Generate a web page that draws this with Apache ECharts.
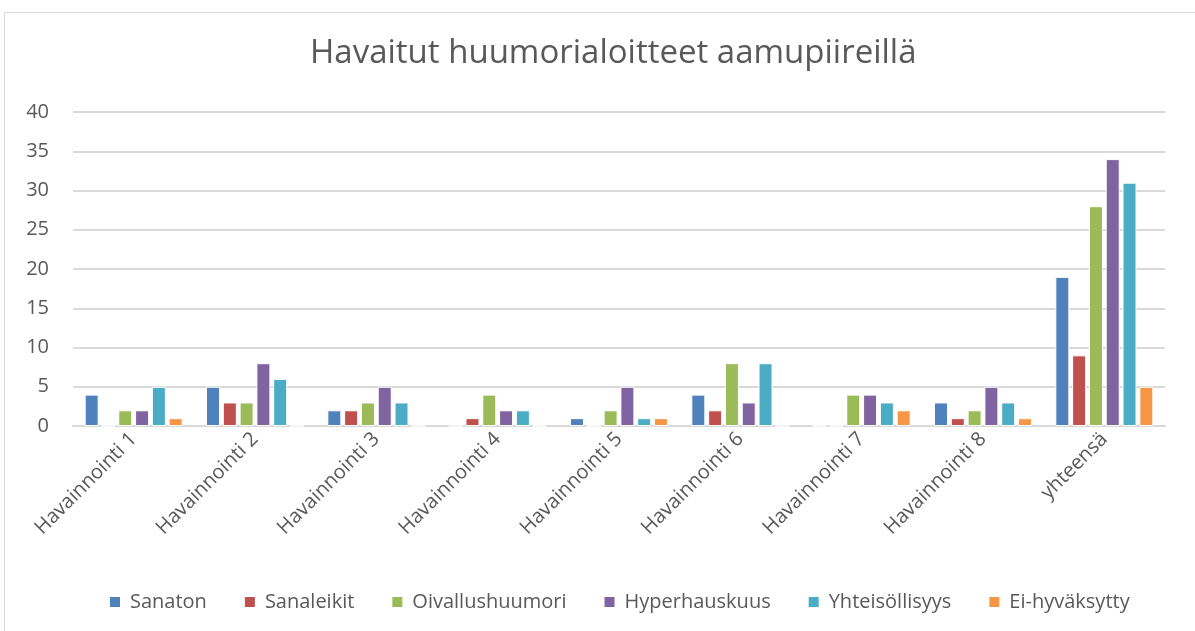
<!DOCTYPE html>
<html><head><meta charset="utf-8">
<script src="https://cdn.jsdelivr.net/npm/echarts@6/dist/echarts.min.js"></script>
<style>
html,body{margin:0;padding:0;background:#fff;}
#frame{position:absolute;left:4px;top:12px;width:1200px;height:640px;border:1px solid #d9d9d9;box-sizing:border-box;}
#c{position:absolute;left:0;top:0;width:1195px;height:631px;}
</style></head>
<body><div id="frame"></div><div id="c"></div>
<script>
var categories = ['Havainnointi 1','Havainnointi 2','Havainnointi 3','Havainnointi 4','Havainnointi 5','Havainnointi 6','Havainnointi 7','Havainnointi 8','yhteensä'];
var seriesNames = ['Sanaton','Sanaleikit','Oivallushuumori','Hyperhauskuus','Yhteisöllisyys','Ei-hyväksytty'];
var sanaton = [4,5,2,0,1,4,0,3,19];
var sanaleikit = [0,3,2,1,0,2,0,1,9];
var oivallushuumori = [2,3,3,4,2,8,4,2,28];
var hyperhauskuus = [2,8,5,2,5,3,4,5,34];
var yhteisollisyys = [5,6,3,2,1,8,3,3,31];
var eiHyvaksytty = [1,0,0,0,1,0,2,1,5];
var colors = ['#4f81bd','#c0504d','#9bbb59','#8064a2','#4bacc6','#f79646'];
var allData = [sanaton,sanaleikit,oivallushuumori,hyperhauskuus,yhteisollisyys,eiHyvaksytty];
var font = '"Open Sans", "Noto Sans", sans-serif';
var chart = echarts.init(document.getElementById('c'));
chart.setOption({
  animation:false,
  color: colors,
  title:{text:'Havaitut huumorialoitteet aamupiireillä',left:305,top:32,
    textStyle:{fontFamily:font,fontSize:33,fontWeight:'normal',color:'#595959'}},
  legend:{bottom:14,left:103,itemWidth:12,itemHeight:12,itemGap:36,icon:'rect',
    textStyle:{fontFamily:font,fontSize:20,color:'#595959',padding:[0,0,0,4]}},
  grid:{left:73,right:30,top:112,bottom:205,containLabel:false},
  xAxis:{type:'category',data:categories,
    axisLine:{lineStyle:{color:'#d9d9d9',width:2}},axisTick:{show:false},
    axisLabel:{rotate:45,fontFamily:font,fontSize:20,color:'#595959',margin:10,interval:0}},
  yAxis:{type:'value',min:0,max:40,interval:5,
    axisLine:{show:false},axisTick:{show:false},
    splitLine:{lineStyle:{color:'#d9d9d9',width:2}},
    axisLabel:{fontFamily:font,fontSize:20,color:'#595959',margin:24}},
  series: seriesNames.map(function(n,i){
    return {name:n,type:'bar',data:allData[i],barWidth:14,barGap:'20%',
      itemStyle:{borderColor:'#ffffff',borderWidth:1}};
  })
});
</script></body></html>
